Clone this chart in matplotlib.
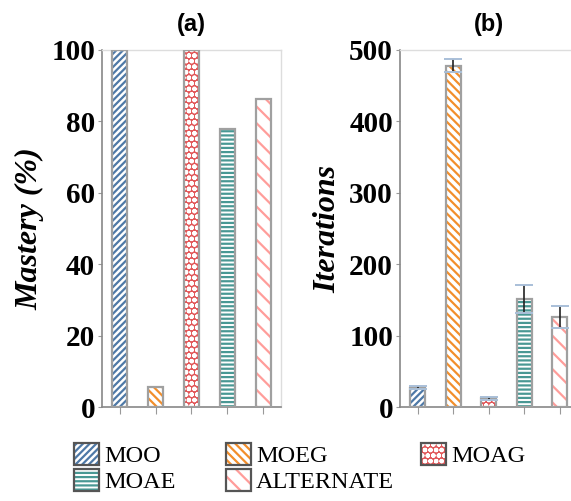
import matplotlib.pyplot as plt
from matplotlib.patches import Patch

methods = ["MOO", "MOEG", "MOAG", "MOAE", "ALTERNATE"]
mastery = [100, 5.5, 100, 78, 86.3]
iterations = [27, 478, 12, 151, 126]
iter_err = [2, 9, 2, 20, 16]

colors = ["#4e79a7", "#f28e2b", "#e15759", "#499894", "#ff9d9a"]
faces = ["white", "white", "#e15759", "white", "white"]
hatches = ["/////", "\\\\\\\\", "ooo", "----", "\\\\"]
hatch_cols = ["#4e79a7", "#f28e2b", "white", "#499894", "#ff9d9a"]

plt.rcParams["hatch.linewidth"] = 1.6
serif = ["Liberation Serif", "DejaVu Serif"]

fig = plt.figure(figsize=(5.71, 5.01), dpi=100)
ax_a = fig.add_axes([0.1786, 0.1876, 0.3135, 0.7126])
ax_b = fig.add_axes([0.7005, 0.1876, 0.3109, 0.7126])

x = list(range(len(methods)))
w = 0.42


def draw_bars(ax, vals):
    for i, v in enumerate(vals):
        ax.bar(x[i], v, width=w, color=faces[i], edgecolor=hatch_cols[i],
               hatch=hatches[i], linewidth=0, zorder=2)
        ax.bar(x[i], v, width=w, fill=False, edgecolor="#a0a0a0",
               linewidth=1.6, zorder=3)


def style(ax, ymax, step, label):
    ax.set_xlim(-0.5, 4.5)
    ax.set_ylim(0, ymax)
    ax.set_xticks(x)
    ax.set_xticklabels([])
    ax.set_yticks(range(0, ymax + 1, step))
    ax.set_yticklabels([str(t) for t in range(0, ymax + 1, step)],
                       family=serif, fontweight="bold", fontsize=21)
    ax.tick_params(axis="x", length=5, color="#999999", width=0.8)
    ax.tick_params(axis="y", length=3, color="#999999", width=0.8, pad=2)
    for s in ["top", "right"]:
        ax.spines[s].set_color("#dddddd")
        ax.spines[s].set_linewidth(1.0)
    for s in ["left", "bottom"]:
        ax.spines[s].set_color("#888888")
        ax.spines[s].set_linewidth(1.2)
    ax.set_ylabel(label, family=serif, fontweight="bold", style="italic",
                  fontsize=23, labelpad=5)


draw_bars(ax_a, mastery)
style(ax_a, 100, 20, "Mastery (%)")
ax_a.set_title("(a)", fontsize=17, fontweight="bold",
               family=["Liberation Sans", "DejaVu Sans"], pad=14)

draw_bars(ax_b, iterations)
eb = ax_b.errorbar(x, iterations, yerr=iter_err, fmt="none", ecolor="#222222",
                   elinewidth=1.2, capsize=6.2, capthick=1.4, zorder=4)
for cl in eb[1]:
    cl.set_markeredgecolor("#a9bfd8")
style(ax_b, 500, 100, "Iterations")
ax_b.set_title("(b)", fontsize=17, fontweight="bold",
               family=["Liberation Sans", "DejaVu Sans"], pad=14)

handles = []
for i in range(len(methods)):
    fillp = Patch(facecolor=faces[i], edgecolor=hatch_cols[i], hatch=hatches[i], linewidth=0)
    border = Patch(facecolor="none", edgecolor="#555555", linewidth=1.6)
    handles.append((fillp, border))

columns = [[0, 3], [1, 4], [2]]
col_x = [0.129, 0.395, 0.737]
for cx, idx in zip(col_x, columns):
    fig.legend([handles[i] for i in idx], [methods[i] for i in idx],
               loc="upper left", bbox_to_anchor=(cx, 0.116), frameon=False,
               prop={"family": serif, "size": 17.5}, handlelength=1.05,
               handleheight=1.05, handletextpad=0.2, labelspacing=0.05,
               borderpad=0, borderaxespad=0)

fig.savefig("out.png", dpi=100)
